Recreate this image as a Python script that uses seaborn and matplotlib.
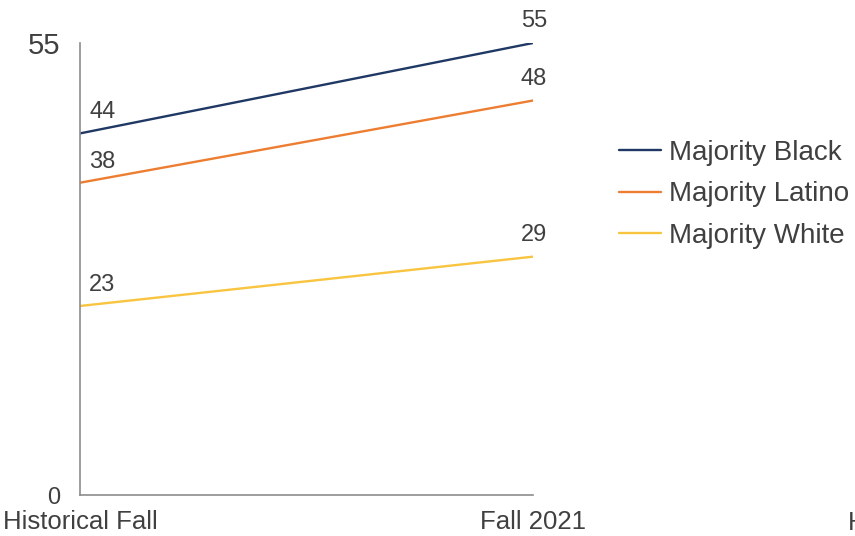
import pandas as pd
import matplotlib.pyplot as plt
import seaborn as sns

periods = ['Historical Fall', 'Fall 2021']
groups = ['Majority Black', 'Majority Latino', 'Majority White']
black = [44, 55]
latino = [38, 48]
white = [23, 29]
colors = ['#203864', '#ED7D31', '#F9C440']

rows = []
for g, vals in zip(groups, [black, latino, white]):
    for p, v in zip(periods, vals):
        rows.append({'period': p, 'group': g, 'value': v})
data = pd.DataFrame(rows)

sns.set_theme(style="white")
plt.rcParams['font.family'] = ['Liberation Sans', 'DejaVu Sans']
txt = '#404040'

fig = plt.figure(figsize=(8.55, 5.36), dpi=100)
ax = fig.add_axes([80 / 855, 41 / 536, 453 / 855, 452 / 536])

sns.lineplot(data=data, x='period', y='value', hue='group', palette=colors,
             linewidth=1.7, ax=ax, sort=False)

ax.set_xlim(0, 1)
ax.set_ylim(0, 55)
ax.set_yticks([0, 55])
ax.set_yticklabels(['0', '55'], color=txt)
ax.get_yticklabels()[0].set_fontsize(17)
ax.get_yticklabels()[1].set_fontsize(21)
ax.set_xticks([0, 1])
ax.set_xticklabels(periods, fontsize=18.5, color=txt)
ax.tick_params(axis='y', length=0, pad=14)
ax.tick_params(axis='x', length=0, pad=11)
ax.set_xlabel('')
ax.set_ylabel('')

for side in ['top', 'right']:
    ax.spines[side].set_visible(False)
for side in ['left', 'bottom']:
    ax.spines[side].set_color('#8c8c8c')
    ax.spines[side].set_linewidth(1.2)

# value labels
for vals in [black, latino, white]:
    ax.annotate(str(vals[0]), (0, vals[0]), xytext=(9, 21), textcoords='offset pixels',
                ha='left', va='center', fontsize=17, color=txt)
    ax.annotate(str(vals[1]), (1, vals[1]), xytext=(1, 22), textcoords='offset pixels',
                ha='center', va='center', fontsize=17, color=txt)

ax.legend(title=None, loc='center left', bbox_to_anchor=(1.19, 0.665),
          frameon=False, fontsize=20, handlelength=1.5, handletextpad=0.3,
          labelspacing=0.55, borderpad=0, borderaxespad=0, labelcolor=txt)

# cut-off label of the neighbouring chart
fig.text(848 / 855, 13 / 536, 'Historical Fall', fontsize=18.5, color=txt,
         ha='left', va='center')

plt.savefig('out.png', dpi=100)
